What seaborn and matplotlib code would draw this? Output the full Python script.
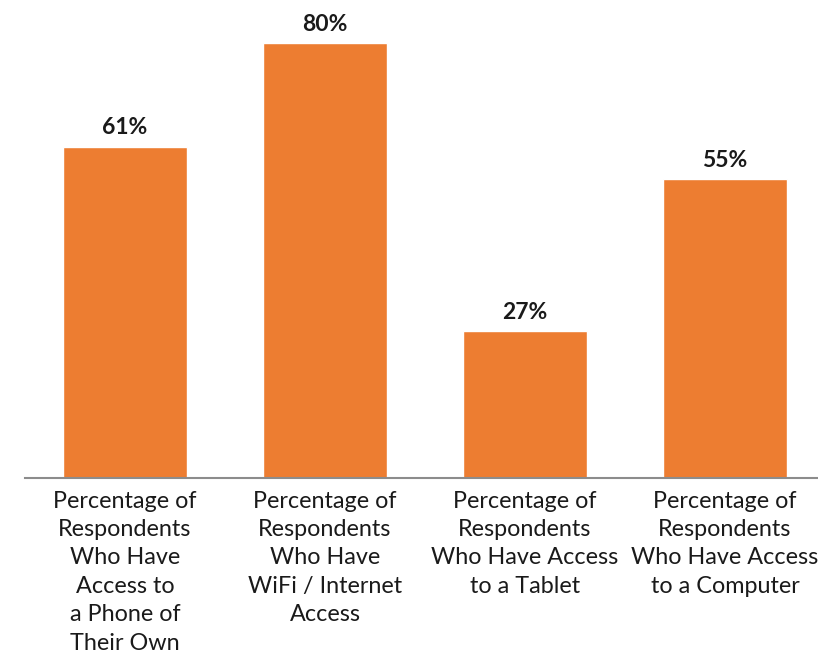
import matplotlib
matplotlib.use("Agg")
import matplotlib.pyplot as plt
import seaborn as sns
import pandas as pd

categories = [
    "Percentage of\nRespondents\nWho Have\nAccess to\na Phone of\nTheir Own",
    "Percentage of\nRespondents\nWho Have\nWiFi / Internet\nAccess",
    "Percentage of\nRespondents\nWho Have Access\nto a Tablet",
    "Percentage of\nRespondents\nWho Have Access\nto a Computer",
]
values = [61, 80, 27, 55]
value_labels = ["61%", "80%", "27%", "55%"]

sns.set_theme(style="white")
plt.rcParams["font.family"] = ["Lato", "DejaVu Sans"]

df = pd.DataFrame({"category": categories, "value": values})

fig = plt.figure(figsize=(8.18, 6.54), dpi=100)
ax = fig.add_axes([25 / 818, 176 / 654, 793 / 818, 478 / 654])

sns.barplot(data=df, x="category", y="value", color="#ED7D31",
            saturation=1, width=0.62, ax=ax)

ax.set_xlim(-0.5, 3.465)
ax.set_ylim(0, 88)

for i, (v, lab) in enumerate(zip(values, value_labels)):
    ax.annotate(lab, (i, v), xytext=(0, 6), textcoords="offset points",
                ha="center", va="bottom", fontsize=16.5, fontweight="bold",
                color="#1a1a1a")

ax.set_xlabel("")
ax.set_ylabel("")
ax.set_yticks([])
ax.tick_params(axis="x", length=0, pad=9, labelsize=16.8, colors="#1a1a1a")
for t in ax.get_xticklabels():
    t.set_linespacing(1.44)
    t.set_horizontalalignment("center")

for side in ["top", "right", "left"]:
    ax.spines[side].set_visible(False)
ax.spines["bottom"].set_color("#8c8c8c")
ax.spines["bottom"].set_linewidth(1.5)

fig.savefig("out.png", dpi=100)
